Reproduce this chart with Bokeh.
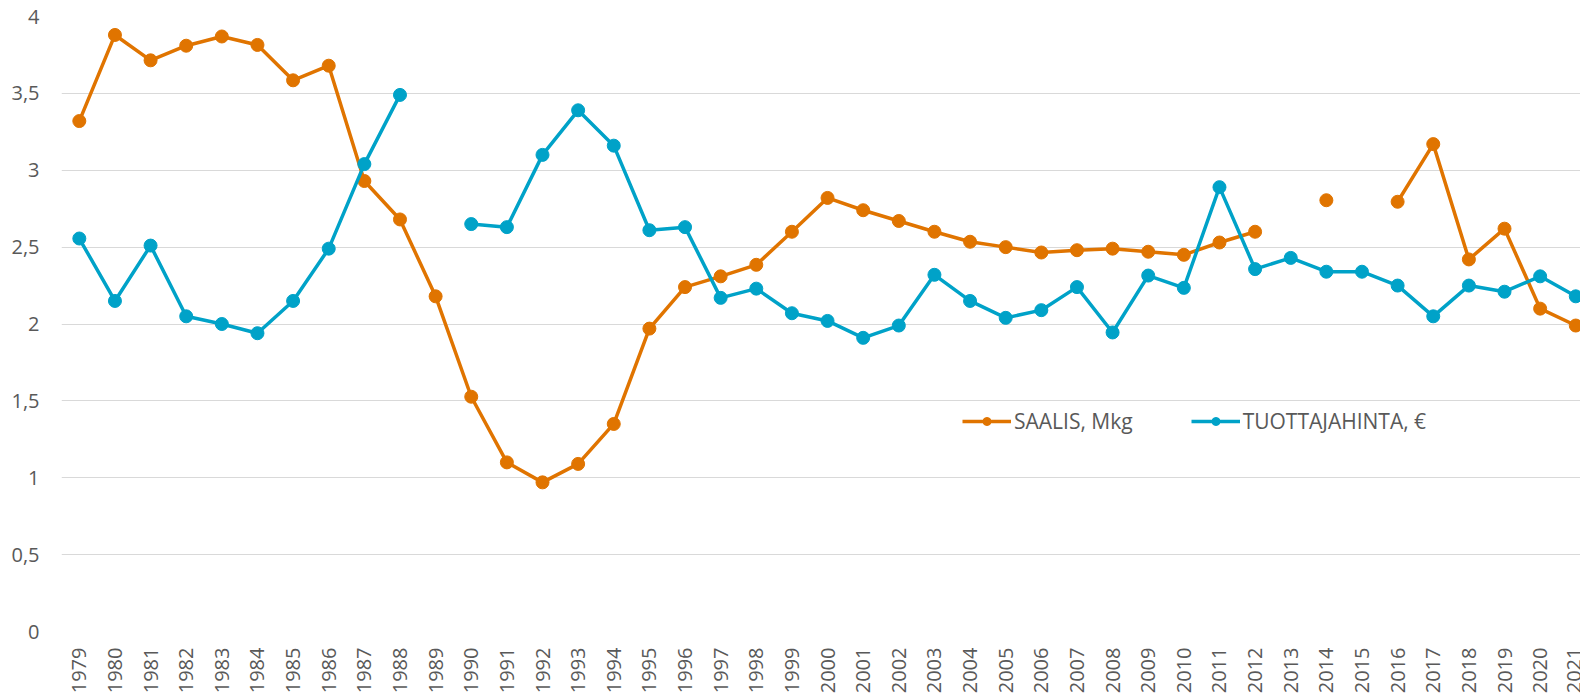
import math
import numpy as np
from bokeh.plotting import figure
from bokeh.models import FixedTicker, Range1d, Legend, LegendItem
from bokeh.embed import file_html
from bokeh.resources import INLINE

years = list(range(1979, 2022))

saalis = [3.32, 3.88, 3.715, 3.81, 3.87, 3.815, 3.585, 3.68, 2.93, 2.68,
          2.18, 1.527, 1.10, 0.97, 1.09, 1.35, 1.97, 2.24, 2.31, 2.385,
          2.60, 2.82, 2.74, 2.67, 2.60, 2.535, 2.50, 2.465, 2.48, 2.49,
          2.47, 2.45, 2.53, 2.60, np.nan, 2.805, np.nan, 2.795, 3.17, 2.42,
          2.62, 2.10, 1.99]

hinta = [2.556, 2.15, 2.51, 2.05, 2.00, 1.94, 2.15, 2.49, 3.04, 3.49,
         np.nan, 2.65, 2.63, 3.10, 3.39, 3.16, 2.61, 2.63, 2.17, 2.23,
         2.07, 2.02, 1.91, 1.99, 2.32, 2.15, 2.04, 2.09, 2.24, 1.945,
         2.315, 2.235, 2.89, 2.357, 2.43, 2.34, 2.34, 2.25, 2.05, 2.25,
         2.21, 2.31, 2.18]

y_ticks = [0, 0.5, 1, 1.5, 2, 2.5, 3, 3.5, 4]
y_labels = ["0", "0,5", "1", "1,5", "2", "2,5", "3", "3,5", "4"]

series_names = ["SAALIS, Mkg", "TUOTTAJAHINTA, €"]
series_colors = ["#E07400", "#00A2C8"]

FONT = "Open Sans"
TXT = "#595959"

W = 1580
H = 696
left_b = 61
frame_w = W - left_b
step = 35.63
x_start = years[0] - 0.5
x_end = x_start + frame_w / step

p = figure(width=W, height=H, output_backend="svg", toolbar_location=None,
           x_range=Range1d(x_start, x_end), y_range=Range1d(0, 4),
           min_border_left=left_b, min_border_right=0, min_border_top=16,
           min_border_bottom=65)
p.outline_line_color = None
p.background_fill_color = "white"
p.border_fill_color = "white"

p.xgrid.grid_line_color = None
p.ygrid.grid_line_color = "#D9D9D9"
p.ygrid.grid_line_width = 1
p.ygrid.ticker = FixedTicker(ticks=y_ticks)

p.yaxis.ticker = FixedTicker(ticks=y_ticks)
p.yaxis.major_label_overrides = {t: l for t, l in zip(y_ticks, y_labels)}
p.xaxis.ticker = FixedTicker(ticks=years)
p.xaxis.major_label_orientation = math.pi / 2

for ax in (p.xaxis, p.yaxis):
    ax.axis_line_color = None
    ax.major_tick_line_color = None
    ax.minor_tick_line_color = None
    ax.major_tick_out = 0
    ax.major_label_text_font = FONT
    ax.major_label_text_font_size = "20px"
    ax.major_label_text_color = TXT
p.yaxis.major_label_standoff = 22
p.xaxis.major_label_standoff = 16

items = []
for name, vals, col in zip(series_names, [saalis, hinta], series_colors):
    r1 = p.line(years, vals, line_color=col, line_width=3.5)
    r2 = p.scatter(years, vals, marker="circle", size=13, fill_color=col, line_color=col)
    items.append(LegendItem(label=name, renderers=[r1, r2]))

legend = Legend(items=items, orientation="horizontal", location=(901, 196),
                glyph_width=49, glyph_height=20, label_standoff=3, spacing=58,
                padding=0, margin=0, border_line_alpha=0, background_fill_alpha=0,
                label_text_font=FONT, label_text_font_size="21px",
                label_text_color=TXT)
p.add_layout(legend, "center")

open("out.html", "w").write(file_html(p, INLINE))
